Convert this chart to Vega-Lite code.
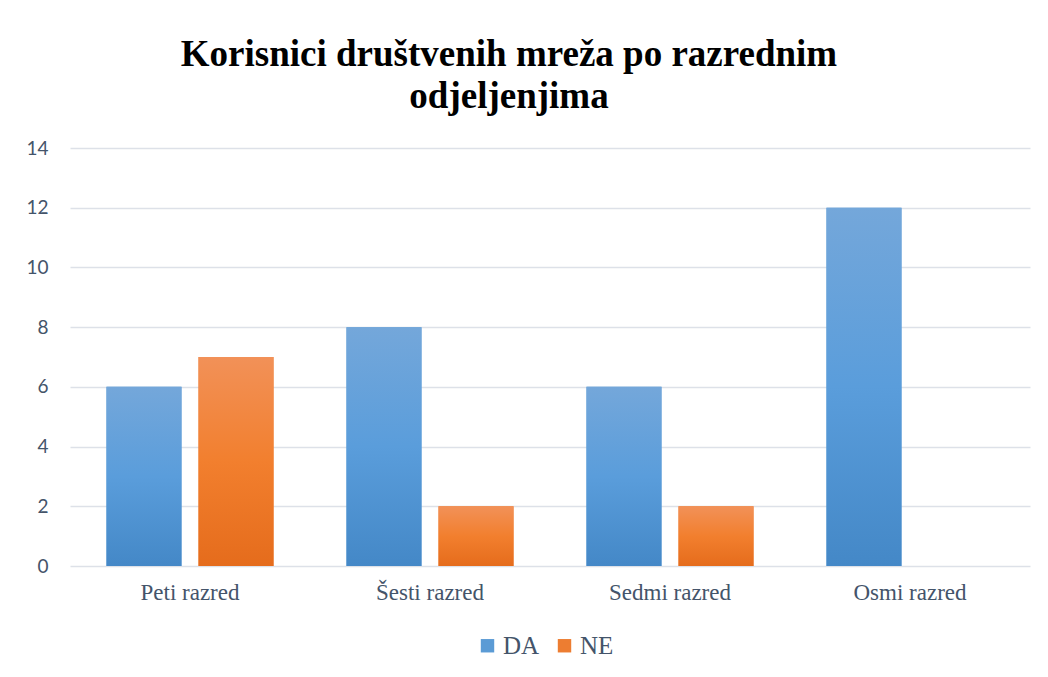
{
  "$schema": "https://vega.github.io/schema/vega-lite/v6.json",
  "width": 960,
  "height": 418,
  "autosize": {"type": "none"},
  "padding": {"left": 70, "top": 148, "right": 18, "bottom": 111},
  "background": "white",
  "title": {
    "text": ["Korisnici društvenih mreža po razrednim", "odjeljenjima"],
    "font": "Liberation Serif",
    "fontSize": 37,
    "fontWeight": "bold",
    "color": "#000000",
    "anchor": "middle",
    "dx": -41,
    "offset": 23,
    "lineHeight": 42
  },
  "data": {
    "values": [
      {"razred": "Peti razred", "serija": "DA", "broj": 6},
      {"razred": "Peti razred", "serija": "NE", "broj": 7},
      {"razred": "Šesti razred", "serija": "DA", "broj": 8},
      {"razred": "Šesti razred", "serija": "NE", "broj": 2},
      {"razred": "Sedmi razred", "serija": "DA", "broj": 6},
      {"razred": "Sedmi razred", "serija": "NE", "broj": 2},
      {"razred": "Osmi razred", "serija": "DA", "broj": 12},
      {"razred": "Osmi razred", "serija": "NE", "broj": 0}
    ]
  },
  "encoding": {
    "x": {
      "field": "razred",
      "type": "nominal",
      "sort": ["Peti razred", "Šesti razred", "Sedmi razred", "Osmi razred"],
      "scale": {"paddingInner": 0.304, "paddingOuter": 0.152},
      "axis": {
        "title": null,
        "labelAngle": 0,
        "domain": false,
        "ticks": false,
        "labelFont": "Liberation Serif",
        "labelFontSize": 23,
        "labelColor": "#44546A",
        "labelPadding": 15
      }
    },
    "xOffset": {
      "field": "serija",
      "type": "nominal",
      "scale": {"domain": ["DA", "NE"], "paddingInner": 0.185, "paddingOuter": 0}
    },
    "y": {
      "field": "broj",
      "type": "quantitative",
      "scale": {"domain": [0, 14]},
      "axis": {
        "title": null,
        "values": [0, 2, 4, 6, 8, 10, 12, 14],
        "domain": false,
        "ticks": false,
        "grid": true,
        "gridColor": "#DDE1E8",
        "gridWidth": 1.5,
        "labelFont": "Lato",
        "labelFontSize": 19,
        "labelColor": "#44546A",
        "labelPadding": 22
      }
    }
  },
  "layer": [
    {
      "mark": {"type": "bar"},
      "encoding": {
        "color": {
          "field": "serija",
          "type": "nominal",
          "scale": {"domain": ["DA", "NE"], "range": ["#5B9BD5", "#ED7D31"]},
          "legend": {
            "title": null,
            "orient": "none",
            "direction": "horizontal",
            "legendX": 405,
            "legendY": 485,
            "symbolType": "square",
            "symbolSize": 180,
            "labelFont": "Liberation Serif",
            "labelFontSize": 25,
            "labelColor": "#44546A",
            "columnPadding": 12,
            "labelOffset": 3
          }
        }
      }
    },
    {
      "transform": [{"filter": "datum.serija === 'DA'"}],
      "mark": {
        "type": "bar",
        "color": {
          "gradient": "linear",
          "x1": 0, "y1": 0, "x2": 0, "y2": 1,
          "stops": [
            {"offset": 0, "color": "#74A7DA"},
            {"offset": 0.5, "color": "#5A9DDB"},
            {"offset": 1, "color": "#4488C7"}
          ]
        }
      },
      "encoding": {}
    },
    {
      "transform": [{"filter": "datum.serija === 'NE'"}],
      "mark": {
        "type": "bar",
        "color": {
          "gradient": "linear",
          "x1": 0, "y1": 0, "x2": 0, "y2": 1,
          "stops": [
            {"offset": 0, "color": "#F29158"},
            {"offset": 0.5, "color": "#F27F2E"},
            {"offset": 1, "color": "#E56C1C"}
          ]
        }
      },
      "encoding": {}
    }
  ],
  "config": {
    "view": {"stroke": null},
    "font": "Liberation Serif",
    "style": {"guide-label": {"font": "Liberation Serif"}},
    "legend": {"labelFont": "Liberation Serif", "labelFontSize": 25, "labelColor": "#44546A"}
  }
}
